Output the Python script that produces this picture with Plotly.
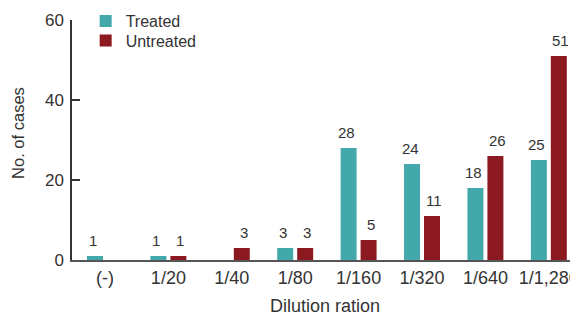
import plotly.graph_objects as go

categories = ["(-)", "1/20", "1/40", "1/80", "1/160", "1/320", "1/640", "1/1,280"]
treated = [1, 1, 0, 3, 28, 24, 18, 25]
untreated = [0, 1, 3, 3, 5, 11, 26, 51]
y_ticks = [0, 20, 40, 60]

TEAL = "#42a8a9"
RED = "#8b191f"
FONT = "Liberation Sans"
TXT = "#333333"

fig = go.Figure()
fig.add_trace(go.Bar(name="Treated", x=categories, y=treated, marker_color=TEAL,
                     marker_line_width=0, legend="legend", showlegend=True))
fig.add_trace(go.Bar(name="Untreated", x=categories, y=untreated, marker_color=RED,
                     marker_line_width=0, legend="legend2", showlegend=True))

annotations = []
for series, shift in ((treated, -12), (untreated, 12)):
    for c, v in zip(categories, series):
        if v == 0:
            continue
        annotations.append(dict(x=c, y=v, text=str(v), showarrow=False, xref="x", yref="y",
                                yanchor="bottom", xshift=shift, yshift=5,
                                font=dict(family=FONT, size=15, color=TXT)))

# y-axis title as rotated text, placed left of the tick labels
annotations.append(dict(text="No. of cases", xref="paper", yref="paper", x=-0.107, y=0.529,
                        xanchor="center", yanchor="middle", textangle=-90, showarrow=False,
                        font=dict(family=FONT, size=16.5, color=TXT)))

leg_common = dict(xanchor="left", yanchor="top", x=0.027,
                  font=dict(family=FONT, size=16, color=TXT),
                  itemwidth=30, bgcolor="rgba(0,0,0,0)")

fig.update_layout(
    width=570, height=308,
    showlegend=True,
    margin=dict(l=64, r=0, t=12, b=56, autoexpand=False),
    plot_bgcolor="white", paper_bgcolor="white",
    barmode="group", bargap=0.37, bargroupgap=0.2,
    font=dict(family=FONT, color=TXT, size=17),
    annotations=annotations,
    legend=dict(y=1.066, **leg_common),
    legend2=dict(y=0.985, **leg_common),
    xaxis=dict(range=[-0.52, 7.46], showline=True, linecolor="#555555", linewidth=2,
               ticks="", showgrid=False, zeroline=False, ticklabelstandoff=0,
               tickfont=dict(family=FONT, size=18, color=TXT),
               title=dict(text="Dilution ration", font=dict(family=FONT, size=18, color=TXT), standoff=16)),
    yaxis=dict(range=[0, 60], tickvals=y_ticks, showline=True, linecolor="#333333", linewidth=1.5,
               ticks="inside", ticklen=8, tickcolor="#333333", tickwidth=1.5,
               showgrid=False, zeroline=False, ticklabelstandoff=3,
               tickfont=dict(family=FONT, size=17, color=TXT)),
)

fig.write_html("out.html")
